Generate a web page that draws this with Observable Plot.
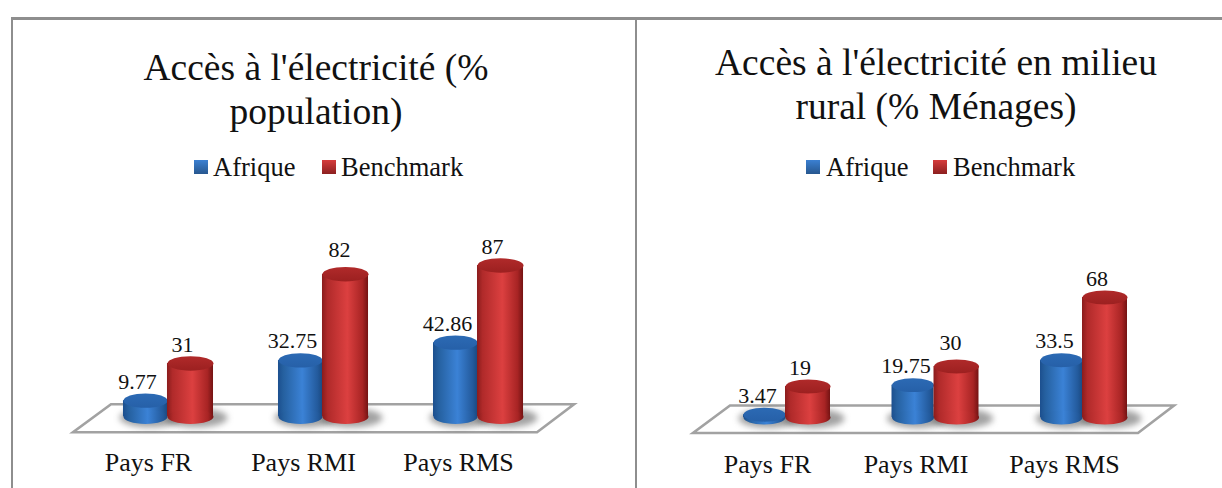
<!DOCTYPE html>
<html lang="fr">
<head>
<meta charset="utf-8">
<script src="https://cdn.jsdelivr.net/npm/d3@7"></script>
<script src="https://cdn.jsdelivr.net/npm/@observablehq/plot@0.6"></script>
<style>
  html, body { margin: 0; padding: 0; background: #fff; }
  #page { position: relative; width: 1222px; height: 488px; overflow: hidden; font-family: "Liberation Serif", serif; color: #111; }
  .rule { position: absolute; background: #8e8e8e; }
  .title { position: absolute; text-align: center; font-size: 37.5px; white-space: nowrap; transform: translateX(-50%); }
  .title div { height: 44px; line-height: 44px; }
  .legend { position: absolute; top: 150px; height: 34px; font-size: 26.5px; line-height: 34px; white-space: nowrap; }
  .legend span { position: absolute; top: 0; }
  .legend i { position: absolute; top: 10px; width: 14px; height: 14px; }
  .plotbox { position: absolute; top: 200px; }
  .plotbox svg { display: block; overflow: visible; }
</style>
</head>
<body>
<div id="page"></div>
<script>
const categories = ["Pays FR", "Pays RMI", "Pays RMS"];
const series = ["Afrique", "Benchmark"];

const title1 = ["Accès à l'électricité (%", "population)"];
const afrique1 = [9.77, 32.75, 42.86];
const benchmark1 = [31, 82, 87];

const title2 = ["Accès à l'électricité en milieu", "rural (% Ménages)"];
const afrique2 = [3.47, 19.75, 33.5];
const benchmark2 = [19, 30, 68];

const serif = "'Liberation Serif', serif";
const page = document.getElementById("page");

function ellipseSymbol(ratio) {
  return {
    draw(ctx, size) {
      const rx = Math.sqrt(size / Math.PI), ry = rx * ratio, k = 0.5523;
      ctx.moveTo(-rx, 0);
      ctx.bezierCurveTo(-rx, -ry * k, -rx * k, -ry, 0, -ry);
      ctx.bezierCurveTo(rx * k, -ry, rx, -ry * k, rx, 0);
      ctx.bezierCurveTo(rx, ry * k, rx * k, ry, 0, ry);
      ctx.bezierCurveTo(-rx * k, ry, -rx, ry * k, -rx, 0);
      ctx.closePath();
    }
  };
}

function gradients(id) {
  return () => {
    const defs = d3.create("svg:defs");
    const add = (name, vertical, stops) => {
      const g = defs.append("linearGradient").attr("id", id + name)
        .attr("x1", 0).attr("y1", 0).attr("x2", vertical ? 0 : 1).attr("y2", vertical ? 1 : 0);
      stops.forEach(([o, c]) => g.append("stop").attr("offset", o).attr("stop-color", c));
    };
    add("blue", false, [[0, "#1c4f8e"], [0.12, "#25609f"], [0.55, "#3b82d6"], [0.9, "#235a9c"], [1, "#1b4a82"]]);
    add("red", false, [[0, "#8a1c1c"], [0.12, "#b02a2a"], [0.55, "#dc4040"], [0.88, "#a82424"], [1, "#741313"]]);
    add("blueTop", true, [[0, "#2c6ab4"], [1, "#2660a8"]]);
    add("redTop", true, [[0, "#b02a2a"], [1, "#9c2020"]]);
    return defs.node();
  };
}

function floor(p) {
  return (index, scales, values, dims) => {
    const y0 = scales.y(0);
    const l = dims.marginLeft, r = dims.width - dims.marginRight;
    const pts = [[l + p.tl, y0 + p.top], [r - p.tr, y0 + p.top], [r - p.br, y0 + p.bottom], [l + p.bl, y0 + p.bottom]];
    return d3.create("svg:path")
      .attr("d", "M" + pts.join("L") + "Z")
      .attr("fill", "#fff").attr("stroke", "#a2a2a2").attr("stroke-width", 2.6)
      .node();
  };
}

function chart(o) {
  const rows = categories.map((c, i) => ({c, a: o.afrique[i], b: o.benchmark[i]}));
  const half = o.bar / 2;
  const body = ellipseSymbol(o.ratio);
  const cyl = (v, dx, r, inset, grad) => [
    Plot.barY(rows, {x: "c", y: v, dx, fill: `url(#${o.id}${grad})`, insetBottom: o.baseLift, insetLeft: inset, insetRight: 0}),
    Plot.dot(rows, {x: "c", y: () => 0, dx: dx + inset / 2, dy: -o.baseLift, r, symbol: ellipseSymbol(o.ratio * half / r), fill: `url(#${o.id}${grad})`, stroke: "none"}),
    Plot.dot(rows, {x: "c", y: v, dx: dx + inset / 2, r, symbol: ellipseSymbol(o.ratio * half / r), fill: `url(#${o.id}${grad}Top)`, stroke: "none"})
  ];
  const shadow = dx => Plot.dot(rows, {x: "c", y: () => 0, dx, dy: -o.baseLift + 1, r: half + 8, symbol: body, fill: "#555", fillOpacity: 0.55, stroke: "none", imageFilter: "blur(3px)"});
  const labelSize = 22;
  const plot = Plot.plot({
    width: o.width,
    height: 288,
    marginLeft: o.marginLeft,
    marginRight: o.marginRight,
    marginTop: o.marginTop,
    marginBottom: o.marginBottom,
    style: {fontFamily: serif, background: "transparent", overflow: "visible", color: "#111"},
    x: {domain: categories, padding: o.padding, round: false, label: null, axis: null},
    y: {domain: [0, 100], axis: null},
    marks: [
      gradients(o.id),
      floor(o.floor),
      shadow(6 - half),
      shadow(6 + half),
      ...cyl("a", -half, half - o.blueInset / 2, o.blueInset, "blue"),
      ...cyl("b", half, half, 0, "red"),
      Plot.text(rows, {x: "c", y: "a", text: d => String(d.a), dx: -half + o.blueLabel, dy: -19, fontSize: labelSize, fill: "#111"}),
      Plot.text(rows, {x: "c", y: "b", filter: d => d.b !== o.raised, text: d => String(d.b), dx: half - 8, dy: -19, fontSize: labelSize, fill: "#111"}),
      Plot.text(rows, {x: "c", y: "b", filter: d => d.b === o.raised, text: d => String(d.b), dx: half - 6, dy: -24, fontSize: labelSize, fill: "#111"}),
      Plot.axisX({anchor: "bottom", tickSize: 0, tickPadding: o.tickPadding, dx: o.tickDx, fontSize: 26, label: null, lineAnchor: "top", fill: "#111"})
    ]
  });
  const box = document.createElement("div");
  box.className = "plotbox";
  box.style.left = o.left + "px";
  box.appendChild(plot);
  page.appendChild(box);
}

function rule(left, top, width, height) {
  const d = document.createElement("div");
  d.className = "rule";
  Object.assign(d.style, {left: left + "px", top: top + "px", width: width + "px", height: height + "px"});
  page.appendChild(d);
}

function title(lines, cx, top) {
  const t = document.createElement("div");
  t.className = "title";
  t.style.left = cx + "px";
  t.style.top = top + "px";
  lines.forEach(l => { const e = document.createElement("div"); e.textContent = l; t.appendChild(e); });
  page.appendChild(t);
}

const swatches = ["linear-gradient(#3b80d2,#27578f)", "linear-gradient(#d63c3c,#8c2020)"];
function legend(xs) {
  const l = document.createElement("div");
  l.className = "legend";
  l.style.left = "0";
  series.forEach((s, i) => {
    const sw = document.createElement("i");
    sw.style.left = xs[i][0] + "px";
    sw.style.background = swatches[i];
    const tx = document.createElement("span");
    tx.style.left = xs[i][1] + "px";
    tx.textContent = s;
    l.append(sw, tx);
  });
  page.appendChild(l);
}

rule(11, 17, 1211, 2.5);
rule(11, 18, 2, 470);
rule(635, 18, 2, 470);

title(title1, 316, 46);
title(title2, 936, 41);
legend([[194, 213], [322, 341]]);
legend([[806, 826], [933, 953]]);

chart({
  id: "p1", left: 0, width: 636, afrique: afrique1, benchmark: benchmark1, raised: 82,
  marginLeft: 35, marginRight: 27, marginTop: 42.25, marginBottom: 70.75,
  padding: 0.703, bar: 46, blueInset: 2, blueLabel: -7, ratio: 0.31, baseLift: 1, tickPadding: 35, tickDx: -19,
  floor: {tl: 76, tr: 35, br: 72, bl: 38, top: -13, bottom: 15}
});
chart({
  id: "p2", left: 636, width: 586, afrique: afrique2, benchmark: benchmark2, raised: 30,
  marginLeft: 23, marginRight: 14, marginTop: 38.9, marginBottom: 67.5,
  padding: 0.697, bar: 45, blueInset: 3, blueLabel: -5.5, ratio: 0.31, baseLift: 3.5, tickPadding: 34, tickDx: -18,
  floor: {tl: 71, tr: 34, br: 70, bl: 34, top: -15, bottom: 12.5}
});
</script>
</body>
</html>
